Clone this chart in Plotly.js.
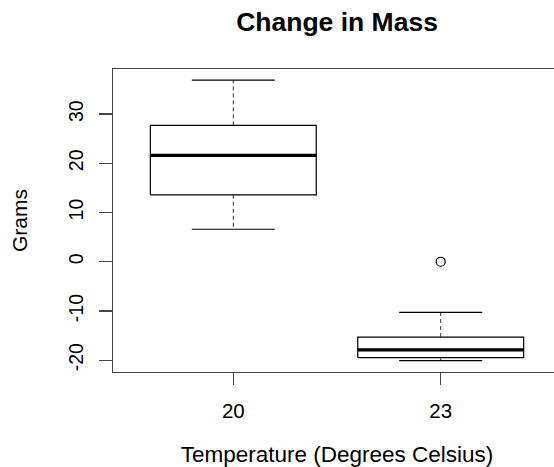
<!DOCTYPE html>
<html>
<head>
<meta charset="utf-8">
<script src="https://cdn.plot.ly/plotly-3.0.1.min.js"></script>
<style>
  html, body { margin: 0; padding: 0; background: #fff; overflow: hidden; }
  #chart { width: 562px; height: 467px; }
</style>
</head>
<body>
<div id="chart"></div>
<script>
// Box-plot summary per temperature group (grams)
const temps = ['20', '23'];
const lowerWhisker = [6.6, -20.1];
const lowerHinge = [13.6, -19.5];
const medians = [21.6, -17.9];
const upperHinge = [27.7, -15.3];
const upperWhisker = [36.9, -10.3];
const outlierValues = [[], [0]];

// y-axis ticks, labelled with a plain hyphen for negatives
const gramTicks = [-20, -10, 0, 10, 20, 30];
const gramTickLabels = ['-20', '-10', '0', '10', '20', '30'];

const HALF_BOX = 0.4;   // box half-width in category units
const HALF_CAP = 0.2;   // whisker staple half-width
const ink = '#000';

const traces = [];
temps.forEach((t, i) => {
  const p = i + 1;
  // box outline
  traces.push({
    type: 'scatter', mode: 'lines', hoverinfo: 'skip', showlegend: false,
    x: [p - HALF_BOX, p + HALF_BOX, p + HALF_BOX, p - HALF_BOX, p - HALF_BOX],
    y: [lowerHinge[i], lowerHinge[i], upperHinge[i], upperHinge[i], lowerHinge[i]],
    line: { color: ink, width: 1.2 }
  });
  // dashed whiskers
  traces.push({
    type: 'scatter', mode: 'lines', hoverinfo: 'skip', showlegend: false,
    x: [p, p, null, p, p],
    y: [upperHinge[i], upperWhisker[i], null, lowerHinge[i], lowerWhisker[i]],
    line: { color: '#333', width: 1, dash: '4px,3px' }
  });
  // whisker staples
  traces.push({
    type: 'scatter', mode: 'lines', hoverinfo: 'skip', showlegend: false,
    x: [p - HALF_CAP, p + HALF_CAP, null, p - HALF_CAP, p + HALF_CAP],
    y: [upperWhisker[i], upperWhisker[i], null, lowerWhisker[i], lowerWhisker[i]],
    line: { color: ink, width: 1.2 }
  });
  // median
  traces.push({
    type: 'scatter', mode: 'lines', hoverinfo: 'skip', showlegend: false,
    x: [p - HALF_BOX, p + HALF_BOX],
    y: [medians[i], medians[i]],
    line: { color: ink, width: 3.2 }
  });
  // outliers
  if (outlierValues[i].length) {
    traces.push({
      type: 'scatter', mode: 'markers', hoverinfo: 'skip', showlegend: false,
      x: outlierValues[i].map(() => p),
      y: outlierValues[i],
      marker: { symbol: 'circle-open', size: 9, color: ink, line: { width: 1.2, color: ink } }
    });
  }
});

const frame = '#444';
const font = 'Liberation Sans, Arial, sans-serif';

const layout = {
  width: 562, height: 467,
  margin: { l: 113, r: 1, t: 69, b: 95 },
  paper_bgcolor: '#fff', plot_bgcolor: '#fff',
  font: { family: font, color: '#000', size: 20 },
  title: {
    text: '<b>Change in Mass</b>',
    font: { family: font, size: 26.5, color: '#000' },
    x: 0.5, xref: 'paper', xanchor: 'center',
    y: 1 - 22 / 467, yref: 'container', yanchor: 'middle'
  },
  xaxis: {
    range: [0.42, 2.58],
    tickmode: 'array', tickvals: temps.map((_, i) => i + 1), ticktext: temps,
    ticks: 'outside', ticklen: 12, tickwidth: 1.2, tickcolor: frame,
    showline: true, mirror: true, linecolor: frame, linewidth: 1.2,
    showgrid: false, zeroline: false,
    tickfont: { size: 20.5 }, ticklabelstandoff: 8,
    title: { text: 'Temperature (Degrees Celsius)', font: { size: 22.5 }, standoff: 29 }
  },
  yaxis: {
    range: [-22.4, 39.15],
    tickmode: 'array', tickvals: gramTicks, ticktext: gramTickLabels,
    ticks: 'outside', ticklen: 13, tickwidth: 1.2, tickcolor: frame,
    showline: true, mirror: true, linecolor: frame, linewidth: 1.2,
    showgrid: false, zeroline: false,
    tickangle: -90, tickfont: { size: 19.5 }, ticklabelstandoff: 8,
    title: { text: 'Grams', font: { size: 21 }, standoff: 31 }
  }
};

Plotly.newPlot('chart', traces, layout, { displayModeBar: false, staticPlot: true });
</script>
</body>
</html>
